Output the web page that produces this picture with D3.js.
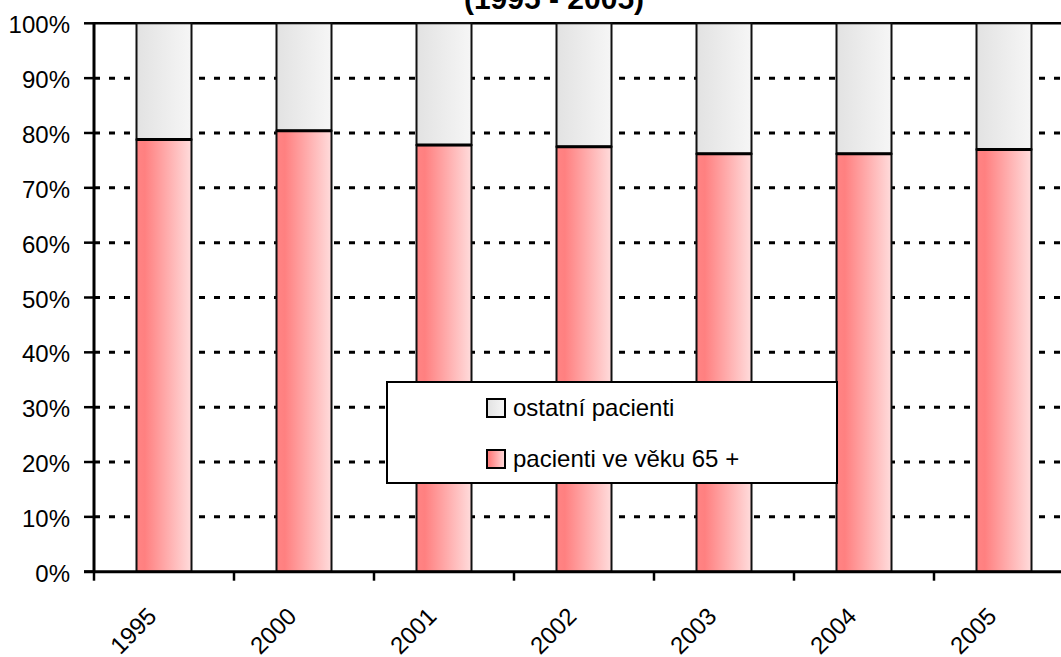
<!DOCTYPE html>
<html>
<head>
<meta charset="utf-8">
<script src="https://cdn.jsdelivr.net/npm/d3@7"></script>
<style>
  html, body { margin: 0; padding: 0; background: #fff; }
  svg { display: block; }
  text { font-family: "Liberation Sans", Arial, sans-serif; fill: #000; }
</style>
</head>
<body>
<svg id="chart" width="1061" height="657"></svg>
<script>
const years = ["1995", "2000", "2001", "2002", "2003", "2004", "2005"];
const elderly = [78.8, 80.4, 77.8, 77.5, 76.2, 76.2, 77.0];   // pacienti ve věku 65 +
const others  = [21.2, 19.6, 22.2, 22.5, 23.8, 23.8, 23.0];   // ostatní pacienti
const yTicks = [0, 10, 20, 30, 40, 50, 60, 70, 80, 90, 100];
const seriesNames = ["pacienti ve věku 65 +", "ostatní pacienti"];
const titleText = "(1995 - 2005)";

const svg = d3.select("#chart");
const plotLeft = 94, plotTop = 23.3, plotBottom = 571.7, step = 140;

const x = d3.scaleBand().domain(years).range([plotLeft, plotLeft + step * years.length]).padding(0);
const y = d3.scaleLinear().domain([0, 100]).range([plotBottom, plotTop]);
const barW = x.bandwidth() * 55 / 140;

const defs = svg.append("defs");
const gPink = defs.append("linearGradient").attr("id", "gPink").attr("x1", "0").attr("x2", "1").attr("y1", "0").attr("y2", "0");
gPink.append("stop").attr("offset", "0").attr("stop-color", "#ff8484");
gPink.append("stop").attr("offset", "0.15").attr("stop-color", "#ff8080");
gPink.append("stop").attr("offset", "1").attr("stop-color", "#ffdcdc");
const gGray = defs.append("linearGradient").attr("id", "gGray").attr("x1", "0").attr("x2", "1").attr("y1", "0").attr("y2", "0");
gGray.append("stop").attr("offset", "0").attr("stop-color", "#e2e2e2");
gGray.append("stop").attr("offset", "1").attr("stop-color", "#f6f6f6");

// title (partially cut at top)
svg.append("text").attr("x", 554).attr("y", 9)
  .attr("text-anchor", "middle").attr("font-size", 30).attr("font-weight", "bold")
  .text(titleText);

// gridlines
svg.append("g").selectAll("line").data(yTicks.filter(t => t > 0 && t < 100)).join("line")
  .attr("x1", plotLeft).attr("x2", 1061).attr("y1", d => y(d)).attr("y2", d => y(d))
  .attr("stroke", "#000").attr("stroke-width", 3).attr("stroke-dasharray", "6,9");
svg.append("line").attr("x1", plotLeft).attr("x2", 1061).attr("y1", y(100)).attr("y2", y(100))
  .attr("stroke", "#000").attr("stroke-width", 2.5);

// bars
const data = years.map((yr, i) => ({ year: yr, elderly: elderly[i], others: others[i] }));
const stack = d3.stack().keys(["elderly", "others"])(data);
const fills = { elderly: "url(#gPink)", others: "url(#gGray)" };
const bars = svg.append("g");
stack.forEach(layer => {
  bars.append("g").selectAll("rect").data(layer).join("rect")
    .attr("x", d => x(d.data.year) + (x.bandwidth() - barW) / 2)
    .attr("width", barW)
    .attr("y", d => y(Math.min(d[1], 100)))
    .attr("height", d => y(d[0]) - y(Math.min(d[1], 100)))
    .attr("fill", fills[layer.key])
    .attr("stroke", "#111").attr("stroke-width", 2);
});
// boundary lines between segments
bars.append("g").selectAll("line").data(data).join("line")
  .attr("x1", d => x(d.year) + (x.bandwidth() - barW) / 2)
  .attr("x2", d => x(d.year) + (x.bandwidth() + barW) / 2)
  .attr("y1", d => y(d.elderly)).attr("y2", d => y(d.elderly))
  .attr("stroke", "#000").attr("stroke-width", 3);

// y axis
const yAxis = svg.append("g");
yAxis.append("line").attr("x1", plotLeft).attr("x2", plotLeft).attr("y1", y(100) - 1).attr("y2", plotBottom + 1)
  .attr("stroke", "#000").attr("stroke-width", 3);
yAxis.selectAll("line.tick").data(yTicks).join("line").attr("class", "tick")
  .attr("x1", plotLeft - 10).attr("x2", plotLeft).attr("y1", d => y(d)).attr("y2", d => y(d))
  .attr("stroke", "#000").attr("stroke-width", 2.5);
yAxis.selectAll("text").data(yTicks).join("text")
  .attr("x", 70).attr("y", d => y(d) + 10)
  .attr("text-anchor", "end").attr("font-size", 24)
  .text(d => d + "%");

// x axis
const xAxis = svg.append("g");
xAxis.append("line").attr("x1", plotLeft - 10).attr("x2", 1061).attr("y1", plotBottom).attr("y2", plotBottom)
  .attr("stroke", "#000").attr("stroke-width", 3);
const bounds = years.map(d => x(d)).concat([x(years[years.length - 1]) + x.bandwidth()]);
xAxis.selectAll("line.tick").data(bounds).join("line").attr("class", "tick")
  .attr("x1", d => d).attr("x2", d => d).attr("y1", plotBottom).attr("y2", plotBottom + 9)
  .attr("stroke", "#000").attr("stroke-width", 2.5);
xAxis.selectAll("text").data(years).join("text")
  .attr("transform", d => `translate(${x(d) + x.bandwidth() / 2 - 6},${plotBottom + 46}) rotate(-45)`)
  .attr("text-anchor", "end").attr("font-size", 24)
  .text(d => d);

// legend
const lg = svg.append("g");
lg.append("rect").attr("x", 387).attr("y", 382).attr("width", 450).attr("height", 101)
  .attr("fill", "#fff").attr("stroke", "#000").attr("stroke-width", 2);
const legendItems = [
  { name: seriesNames[1], fill: "url(#gGray)" },
  { name: seriesNames[0], fill: "url(#gPink)" }
];
legendItems.forEach((it, i) => {
  const yy = 399 + i * 51;
  lg.append("rect").attr("x", 487).attr("y", yy).attr("width", 18).attr("height", 18)
    .attr("fill", it.fill).attr("stroke", "#000").attr("stroke-width", 2);
  lg.append("text").attr("x", 513).attr("y", yy + 17).attr("font-size", 24).text(it.name);
});
</script>
</body>
</html>
